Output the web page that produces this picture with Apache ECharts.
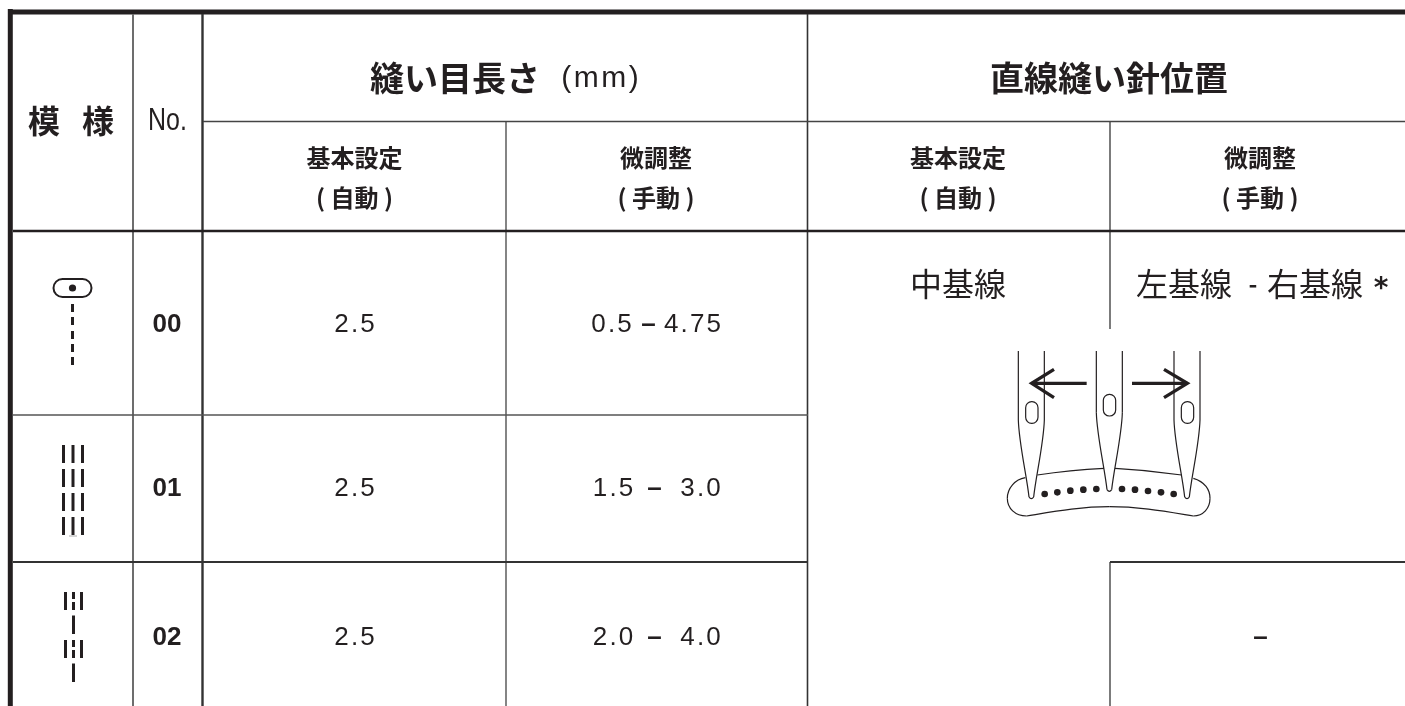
<!DOCTYPE html>
<html>
<head>
<meta charset="utf-8">
<style>
  html, body { margin: 0; padding: 0; background: #fff; }
  #main { width: 1405px; height: 706px; }
</style>
<script src="https://cdn.jsdelivr.net/npm/echarts@6/dist/echarts.min.js"></script>
</head>
<body>
<div id="main"></div>
<script>
// table contents
const patternNos = ['00', '01', '02'];
const baseLength = ['2.5', '2.5', '2.5'];
const fineLow = ['0.5', '1.5', '2.0'];
const fineHigh = ['4.75', '3.0', '4.0'];
const groupHeads = ['縫い目長さ', '直線縫い針位置'];
const subHeads = ['基本設定', '微調整', '基本設定', '微調整'];
const subNotes = ['( 自動 )', '( 手動 )', '( 自動 )', '( 手動 )'];
const needleBase = '中基線';
const needleFine = ['左基線', '-', '右基線', '*'];
const dash = '\u2013';

// layout of the table, in page pixels
const colMid = [71, 167, 354.5, 656, 958, 1260];
const rowMid = [325, 489, 638];
const fineX = [[611.5, 648.5, 692.5], [613, 654.5, 700.5], [613, 654.5, 700.5]];
const ink = '#231f20';
const cjk = '"Noto Sans CJK JP"';
const latin = '"Liberation Sans"';

// x1, y1, x2, y2, width, colour
const rules = [
  [8, 12, 1405, 12, 5, ink],
  [10.3, 9, 10.3, 706, 5, ink],
  [133, 14, 133, 706, 2, '#6d6d6d'],
  [202.5, 14, 202.5, 706, 2.4, '#333'],
  [807.5, 14, 807.5, 706, 1.6, '#333'],
  [506, 121, 506, 706, 1.6, '#666'],
  [1110, 121, 1110, 329, 1.4, '#444'],
  [1110, 562, 1110, 706, 1.4, '#444'],
  [203, 121.5, 1405, 121.5, 1.6, '#444'],
  [13, 231, 1405, 231, 2.6, ink],
  [13, 415, 808, 415, 1.6, '#555'],
  [13, 562, 808, 562, 1.8, '#333'],
  [1110, 562, 1405, 562, 1.8, '#333']
];

function track(s) {
  return s.split('').join('\u200a');
}

const cells = [];
function cell(x, y, text, font, sx) {
  cells.push({ value: [x, y], text: text, font: font, sx: sx || 1 });
}
cell(71, 121, '模   様', 'bold 32px ' + cjk);
cell(167.5, 121.5, 'No.', '32px ' + latin, 0.78);
cell(455, 78, groupHeads[0], 'bold 34px ' + cjk);
cell(600, 79, track('(mm)'), '30px ' + latin);
cell(1109, 78, groupHeads[1], 'bold 34px ' + cjk);
subHeads.forEach((t, i) => {
  cell(colMid[i + 2], 158, t, 'bold 24px ' + cjk);
  cell(colMid[i + 2], 198, subNotes[i], 'bold 24px ' + cjk);
});
patternNos.forEach((t, i) => {
  cell(colMid[1], rowMid[i], t, 'bold 26px ' + latin);
  cell(colMid[2], rowMid[i], track(baseLength[i]), '26px ' + latin);
  cell(fineX[i][0], rowMid[i], track(fineLow[i]), '26px ' + latin);
  cell(fineX[i][1], rowMid[i], dash, 'bold 26px ' + latin);
  cell(fineX[i][2], rowMid[i], track(fineHigh[i]), '26px ' + latin);
});
cell(958, 284, needleBase, '32px ' + cjk);
cell(1184, 284, needleFine[0], '32px ' + cjk);
cell(1253, 284, needleFine[1], 'bold 24px ' + cjk);
cell(1315, 284, needleFine[2], '32px ' + cjk);
cell(1381, 290, needleFine[3], 'bold 28px "DejaVu Sans"');
cell(1260.5, rowMid[2], dash, 'bold 26px ' + latin);

// stitch symbols in the first column
function stitch(x, y1, y2) {
  return { type: 'rect', shape: { x: x - 1.5, y: y1, width: 3, height: y2 - y1 }, style: { fill: ink } };
}
const symbols = [
  { type: 'rect', shape: { x: 53.5, y: 279, width: 38, height: 18, r: 9 }, style: { fill: '#fff', stroke: ink, lineWidth: 2 } },
  { type: 'circle', shape: { cx: 72.5, cy: 288, r: 3.6 }, style: { fill: ink } },
  { type: 'rect', shape: { x: 69, y: 535.5, width: 8, height: 1 }, style: { fill: '#aaa' } }
];
[304, 317, 331, 344, 357].forEach((y) => symbols.push(stitch(72.5, y, y + 8)));
[445, 469, 493, 517].forEach((y) => {
  [63.5, 73, 82.5].forEach((x) => symbols.push(stitch(x, y, y + 18)));
});
[592, 640].forEach((y) => {
  symbols.push(stitch(65.5, y, y + 18), stitch(81.5, y, y + 18));
  symbols.push(stitch(73.5, y, y + 7), stitch(73.5, y + 10, y + 18));
  symbols.push(stitch(73.5, y + 23.5, y + 42));
});

// needles drawing, units are 1/3 px
const thin = { fill: null, stroke: ink, lineWidth: 3.6 };
const bold = { fill: null, stroke: ink, lineWidth: 10 };
function poly(points, style) {
  return { type: 'polyline', shape: { points: points }, style: style };
}
function curve(x1, y1, a, b, c, d, x2, y2) {
  return { type: 'bezierCurve', shape: { x1: x1, y1: y1, cpx1: a, cpy1: b, cpx2: c, cpy2: d, x2: x2, y2: y2 }, style: thin };
}
function quad(x1, y1, a, b, x2, y2) {
  return { type: 'bezierCurve', shape: { x1: x1, y1: y1, cpx1: a, cpy1: b, x2: x2, y2: y2 }, style: thin };
}
function needle(x, tipY) {
  const l = x, r = x + 78, mid = x + 39, sh = tipY - 237;
  return [
    poly([[l, 63], [l, sh]], thin),
    curve(l, sh, l + 2, sh + 70, mid - 14, tipY - 70, mid - 7, tipY - 6),
    quad(mid - 7, tipY - 6, mid, tipY + 4, mid + 7, tipY - 6),
    curve(mid + 7, tipY - 6, mid + 14, tipY - 70, r - 2, sh + 70, r, sh),
    poly([[r, sh], [r, 63]], thin)
  ];
}
function eye(x, y) {
  return { type: 'rect', shape: { x: x, y: y, width: 37, height: 65, r: 18 }, style: thin };
}
const needleParts = [].concat(needle(115, 507), needle(349, 485), needle(582, 507), [
  eye(137, 215), eye(370, 193), eye(604, 215),
  quad(172, 435, 270, 420, 372, 415),
  quad(405, 415, 505, 420, 605, 435),
  curve(640, 445, 675, 455, 690, 480, 690, 505),
  curve(690, 505, 690, 535, 670, 558, 640, 558),
  curve(640, 558, 560, 545, 480, 530, 388, 530),
  curve(388, 530, 300, 530, 220, 545, 140, 558),
  curve(140, 558, 105, 558, 82, 535, 82, 505),
  curve(82, 505, 82, 475, 105, 448, 136, 443),
  poly([[320, 160], [155, 160]], bold),
  poly([[222, 118], [155, 160], [222, 203]], bold),
  poly([[456, 160], [622, 160]], bold),
  poly([[552, 118], [622, 160], [552, 203]], bold)
]);
[[194, 492], [232, 487], [271, 482], [310, 479], [349, 477], [426, 477], [465, 479], [504, 483], [543, 487], [581, 492]].forEach((p) => {
  needleParts.push({ type: 'circle', shape: { cx: p[0], cy: p[1], r: 10 }, style: { fill: ink } });
});

const chart = echarts.init(document.getElementById('main'), null, { renderer: 'canvas' });
chart.setOption({
  animation: false,
  backgroundColor: '#fff',
  grid: { left: 0, right: 0, top: 0, bottom: 0 },
  xAxis: { type: 'value', min: 0, max: 1405, show: false },
  yAxis: { type: 'value', min: 0, max: 706, inverse: true, show: false },
  graphic: [
    { type: 'group', children: symbols },
    { type: 'group', x: 980, y: 330, scaleX: 1 / 3, scaleY: 1 / 3, children: needleParts }
  ],
  series: [
    {
      type: 'custom',
      name: 'rules',
      coordinateSystem: 'cartesian2d',
      silent: true,
      encode: { x: [0, 2], y: [1, 3] },
      data: rules,
      renderItem(params, api) {
        const a = api.coord([api.value(0), api.value(1)]);
        const b = api.coord([api.value(2), api.value(3)]);
        const r = rules[params.dataIndex];
        return {
          type: 'line',
          shape: { x1: a[0], y1: a[1], x2: b[0], y2: b[1] },
          style: { stroke: r[5], lineWidth: r[4] }
        };
      }
    },
    {
      type: 'custom',
      name: 'cells',
      coordinateSystem: 'cartesian2d',
      silent: true,
      encode: { x: 0, y: 1 },
      data: cells,
      renderItem(params, api) {
        const p = api.coord([api.value(0), api.value(1)]);
        const c = cells[params.dataIndex];
        return {
          type: 'text',
          x: p[0],
          y: p[1],
          scaleX: c.sx,
          style: { x: 0, y: 0, text: c.text, font: c.font, fill: ink, align: 'center', verticalAlign: 'middle' }
        };
      }
    }
  ]
});
</script>
</body>
</html>
